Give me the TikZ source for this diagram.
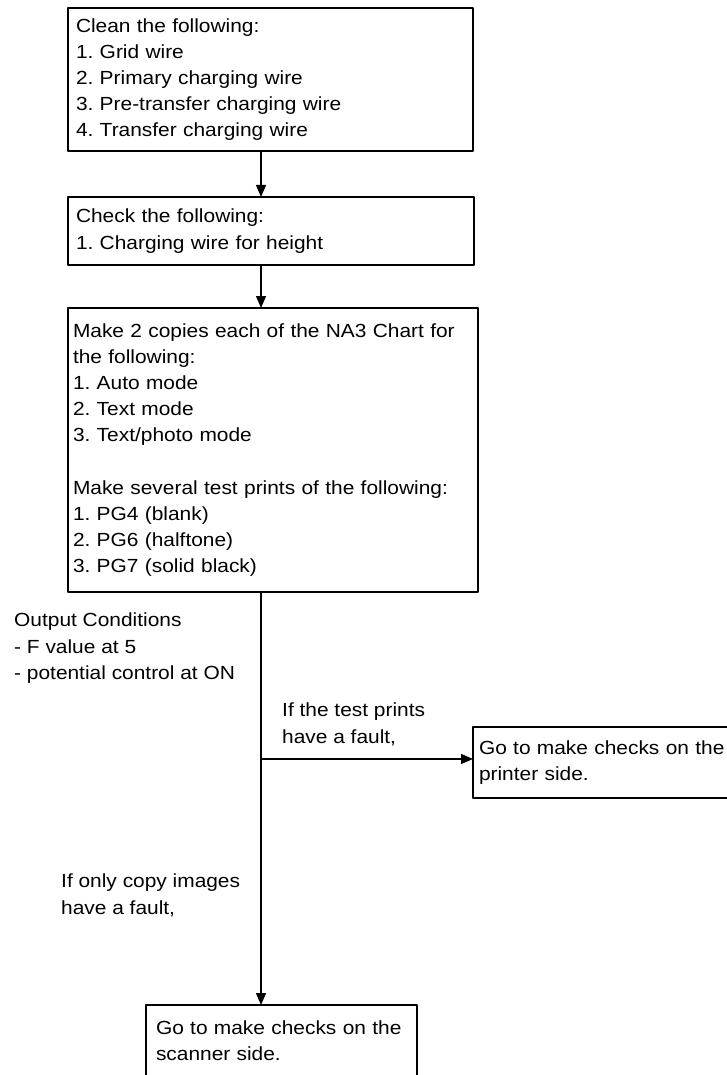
\documentclass[tikz,border=0pt]{standalone}
\usepackage{fontspec}
\setmainfont{Liberation Sans}[FakeStretch=1.1]
\usetikzlibrary{arrows.meta}
\frenchspacing
\begin{document}
\begin{tikzpicture}[x=1pt, y=-1pt, line cap=round, line join=round,
    every node/.style={font=\fontsize{19}{26.2}\selectfont},
    box/.style={draw, line width=1.6pt, anchor=north west, align=left, inner ysep=0pt, outer sep=0pt},
    lbl/.style={anchor=north west, align=left, inner sep=0pt},
    arr/.style={line width=1.3pt, -{Triangle[length=12pt,width=10pt]}}]
    \useasboundingbox (0,0) rectangle (726,1075);
    \coordinate (spine) at (261,0);
    \node[box, inner xsep=8pt, text width=389pt, minimum height=143pt] (clean) at (68,8)
      {Clean the following:\\1. Grid wire\\2. Primary charging wire\\3. Pre-transfer charging wire\\4. Transfer charging wire};
    \node[box, inner xsep=8pt, text width=390pt, minimum height=68pt] (check) at (68,197)
      {Check the following:\\1. Charging wire for height};
    \node[box, inner xsep=5pt, text width=400pt, minimum height=284pt] (copies) at (68,308)
      {Make 2 copies each of the NA3 Chart for\\the following:\\1. Auto mode\\2. Text mode\\3. Text/photo mode\\[26.2pt]
       Make several test prints of the following:\\1. PG4 (blank)\\2. PG6 (halftone)\\3. PG7 (solid black)};
    \node[box, inner xsep=6pt, text width=253pt, minimum height=71pt] (printer) at (473,727)
      {Go to make checks on the\\printer side.};
    \node[box, inner xsep=10pt, text width=251pt, minimum height=72pt] (scanner) at (146,1005)
      {Go to make checks on the\\scanner side.};
    \coordinate (fork) at (spine |- 0,759);
    \draw[arr] (spine |- clean.south) -- (spine |- check.north);
    \draw[arr] (spine |- check.south) -- (spine |- copies.north);
    \draw[arr] (spine |- copies.south) -- (spine |- scanner.north);
    \draw[arr] (fork) -- (fork -| printer.west);
    \node[lbl] (cond) at (14,613) {Output Conditions\\- F value at 5\\- potential control at ON};
    \node[lbl] (faultp) at (282,703) {If the test prints\\have a fault,};
    \node[lbl] (faults) at (61,874) {If only copy images\\have a fault,};
\end{tikzpicture}
\end{document}
